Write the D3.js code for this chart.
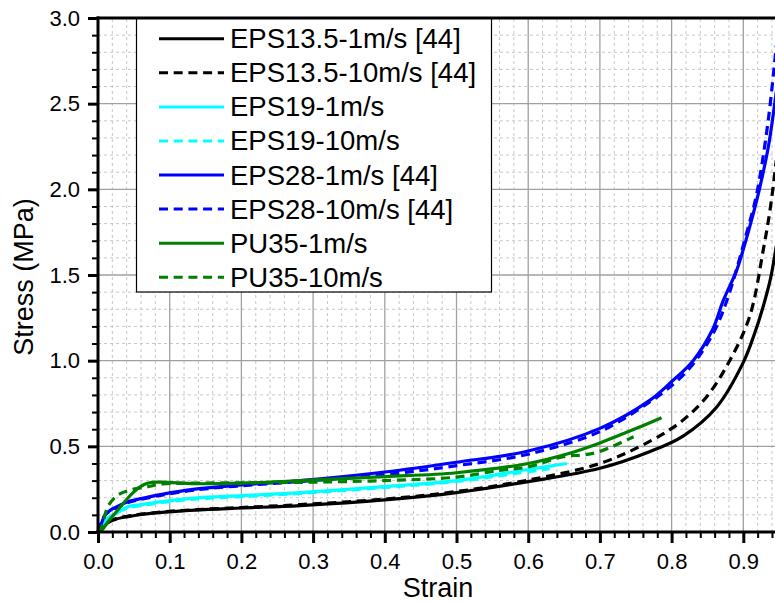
<!DOCTYPE html>
<html>
<head>
<meta charset="utf-8">
<script src="https://cdn.jsdelivr.net/npm/d3@7"></script>
<style>
html,body{margin:0;padding:0;background:#fff;}
svg{display:block;font-family:"Liberation Sans",Arial,sans-serif;}
</style>
</head>
<body>
<svg id="chart" width="775" height="603"></svg>
<script>
// ---- data (strain, stress MPa) ----
const seriesNames = ["EPS13.5-1m/s [44]","EPS13.5-10m/s [44]","EPS19-1m/s","EPS19-10m/s","EPS28-1m/s [44]","EPS28-10m/s [44]","PU35-1m/s","PU35-10m/s"];
const seriesColors = ["#000000","#000000","#00ffff","#00ffff","#0000ff","#0000ff","#008000","#008000"];
const seriesDashed = [false,true,false,true,false,true,false,true];

const eps135_1 = [[0,0],[0.005,0.02],[0.014,0.055],[0.025,0.075],[0.042,0.09],[0.06,0.102],[0.089,0.115],[0.135,0.128],[0.2,0.14],[0.282,0.154],[0.4,0.187],[0.5,0.23],[0.6,0.294],[0.7,0.372],[0.77,0.47],[0.816,0.56],[0.863,0.73],[0.9,0.99],[0.915,1.15],[0.928,1.32],[0.938,1.48],[0.946,1.67]];
const eps135_10 = [[0,0],[0.005,0.025],[0.014,0.06],[0.025,0.078],[0.042,0.093],[0.06,0.104],[0.089,0.117],[0.135,0.13],[0.2,0.143],[0.282,0.16],[0.4,0.192],[0.5,0.236],[0.6,0.303],[0.7,0.40],[0.77,0.53],[0.812,0.64],[0.849,0.79],[0.881,1.0],[0.909,1.26],[0.928,1.65],[0.938,1.9],[0.946,2.17]];
const eps19_1 = [[0,0],[0.005,0.03],[0.012,0.07],[0.024,0.105],[0.042,0.148],[0.06,0.16],[0.089,0.177],[0.135,0.198],[0.2,0.212],[0.282,0.23],[0.4,0.265],[0.5,0.30],[0.6,0.365],[0.654,0.40]];
const eps19_10 = [[0,0],[0.005,0.035],[0.012,0.075],[0.024,0.11],[0.042,0.14],[0.06,0.155],[0.089,0.172],[0.135,0.192],[0.2,0.207],[0.282,0.225],[0.4,0.26],[0.5,0.295],[0.58,0.34],[0.63,0.37]];
const eps28_1 = [[0,0],[0.004,0.04],[0.01,0.1],[0.02,0.135],[0.03,0.155],[0.042,0.177],[0.06,0.195],[0.089,0.22],[0.135,0.25],[0.2,0.275],[0.282,0.30],[0.4,0.35],[0.5,0.407],[0.6,0.473],[0.7,0.605],[0.77,0.77],[0.798,0.87],[0.83,1.0],[0.857,1.18],[0.872,1.35],[0.891,1.53],[0.9,1.65],[0.914,1.86],[0.923,2.01],[0.935,2.25],[0.946,2.57]];
const eps28_10 = [[0,0],[0.004,0.05],[0.01,0.1],[0.02,0.13],[0.03,0.15],[0.042,0.172],[0.06,0.19],[0.089,0.215],[0.135,0.245],[0.2,0.27],[0.282,0.295],[0.4,0.335],[0.5,0.387],[0.6,0.454],[0.7,0.586],[0.77,0.76],[0.793,0.83],[0.826,0.96],[0.858,1.16],[0.877,1.35],[0.905,1.75],[0.919,1.98],[0.935,2.41],[0.946,2.84]];
const pu35_1 = [[0,0],[0.005,0.01],[0.014,0.06],[0.028,0.13],[0.042,0.2],[0.056,0.255],[0.066,0.28],[0.075,0.29],[0.096,0.29],[0.135,0.282],[0.2,0.285],[0.282,0.30],[0.4,0.323],[0.5,0.346],[0.6,0.40],[0.654,0.455],[0.7,0.52],[0.751,0.605],[0.786,0.667]];
const pu35_10 = [[0,0],[0.005,0.03],[0.014,0.15],[0.028,0.216],[0.045,0.245],[0.07,0.265],[0.09,0.28],[0.135,0.285],[0.2,0.287],[0.282,0.29],[0.4,0.30],[0.5,0.32],[0.56,0.36],[0.6,0.38],[0.649,0.44],[0.677,0.45],[0.7,0.47],[0.747,0.556]];
const seriesData = [eps135_1,eps135_10,eps19_1,eps19_10,eps28_1,eps28_10,pu35_1,pu35_10];

const xMajor = [0,0.1,0.2,0.3,0.4,0.5,0.6,0.7,0.8,0.9];
const yMajor = [0,0.5,1.0,1.5,2.0,2.5,3.0];
const xTitle = "Strain";
const yTitle = "Stress (MPa)";

// ---- layout ----
const svg = d3.select("#chart");
const x = d3.scaleLinear().domain([0,0.95]).range([98, 98+0.95*717]);
const y = d3.scaleLinear().domain([0,3]).range([532,18]);
const xMinor = d3.range(0,0.951,0.02).map(v=>+v.toFixed(2)).filter(v=>!xMajor.some(m=>Math.abs(m-v)<1e-6));
const yMinor = d3.range(0,3.001,0.1).map(v=>+v.toFixed(1)).filter(v=>!yMajor.some(m=>Math.abs(m-v)<1e-6));
const x0=98, x1=775, y0=532, y1=18;

svg.append("rect").attr("width",775).attr("height",603).attr("fill","#fff");

// grid
const grid = svg.append("g");
grid.selectAll(".gxm").data(xMinor).join("line")
  .attr("x1",d=>x(d)).attr("x2",d=>x(d)).attr("y1",y0).attr("y2",y1)
  .attr("stroke","#c8c8c8").attr("stroke-width",1).attr("stroke-dasharray","3,3");
grid.selectAll(".gym").data(yMinor).join("line")
  .attr("x1",x0).attr("x2",x1).attr("y1",d=>y(d)).attr("y2",d=>y(d))
  .attr("stroke","#c8c8c8").attr("stroke-width",1).attr("stroke-dasharray","3,3");
grid.selectAll(".gxM").data(xMajor.slice(1)).join("line")
  .attr("x1",d=>x(d)).attr("x2",d=>x(d)).attr("y1",y0).attr("y2",y1)
  .attr("stroke","#a0a0a0").attr("stroke-width",1.3);
grid.selectAll(".gyM").data(yMajor.slice(1)).join("line")
  .attr("x1",x0).attr("x2",x1).attr("y1",d=>y(d)).attr("y2",d=>y(d))
  .attr("stroke","#a0a0a0").attr("stroke-width",1.3);

// curves
const line = d3.line().x(d=>x(d[0])).y(d=>y(d[1])).curve(d3.curveCatmullRom.alpha(0.5));
const curves = svg.append("g");
seriesData.forEach((data,i)=>{
  curves.append("path").datum(data).attr("d",line)
    .attr("fill","none").attr("stroke",seriesColors[i]).attr("stroke-width",3.2)
    .attr("stroke-linejoin","round")
    .attr("stroke-dasharray",seriesDashed[i]?"9,5.7":null);
});

// legend
const lg = svg.append("g");
lg.append("rect").attr("x",136.5).attr("y",18).attr("width",355).attr("height",274)
  .attr("fill","#fff").attr("stroke","#000").attr("stroke-width",1.2);
seriesNames.forEach((n,i)=>{
  const by = 48.3 + 34.06*i;
  lg.append("line").attr("x1",159).attr("x2",224).attr("y1",by-9.5).attr("y2",by-9.5)
    .attr("stroke",seriesColors[i]).attr("stroke-width",3)
    .attr("stroke-dasharray",seriesDashed[i]?"9,5.7":null);
  lg.append("text").attr("x",230).attr("y",by).attr("font-size","27.5px").attr("fill","#000").text(n);
});

// axes
const fmt = d3.format(".1f");
const xAx = svg.append("g").attr("transform",`translate(0,${y0})`)
  .call(d3.axisBottom(x).tickValues(xMajor).tickFormat(fmt).tickSize(11).tickPadding(10));
const xAxm = svg.append("g").attr("transform",`translate(0,${y0})`)
  .call(d3.axisBottom(x).tickValues(xMinor).tickFormat("").tickSize(6));
const yAx = svg.append("g").attr("transform",`translate(${x0},0)`)
  .call(d3.axisLeft(y).tickValues(yMajor).tickFormat(fmt).tickSize(10).tickPadding(8));
const yAxm = svg.append("g").attr("transform",`translate(${x0},0)`)
  .call(d3.axisLeft(y).tickValues(yMinor).tickFormat("").tickSize(6));
[xAx,xAxm,yAx,yAxm].forEach(g=>{
  g.select(".domain").remove();
  g.selectAll("line").attr("stroke","#000");
});
[xAx,yAx].forEach(g=>{
  g.selectAll(".tick line").attr("stroke-width",3);
  g.selectAll("text").attr("font-size","22px").attr("fill","#000")
    .attr("font-family","'Liberation Sans',Arial,sans-serif");
});
[xAxm,yAxm].forEach(g=>g.selectAll(".tick line").attr("stroke-width",2));

// frame lines (bottom, left, top)
svg.append("line").attr("x1",x0-1.5).attr("x2",x1).attr("y1",y0).attr("y2",y0).attr("stroke","#000").attr("stroke-width",3);
svg.append("line").attr("x1",x0).attr("x2",x0).attr("y1",y0+1.5).attr("y2",y1-1.5).attr("stroke","#000").attr("stroke-width",3);
svg.append("line").attr("x1",x0-1.5).attr("x2",x1).attr("y1",y1).attr("y2",y1).attr("stroke","#000").attr("stroke-width",3);

// titles
svg.append("text").attr("x",438).attr("y",597).attr("text-anchor","middle")
  .attr("font-size","27px").attr("fill","#000").text(xTitle);
svg.append("text").attr("transform","translate(33,277) rotate(-90)").attr("text-anchor","middle")
  .attr("font-size","27px").attr("fill","#000").text(yTitle);
</script>
</body>
</html>
